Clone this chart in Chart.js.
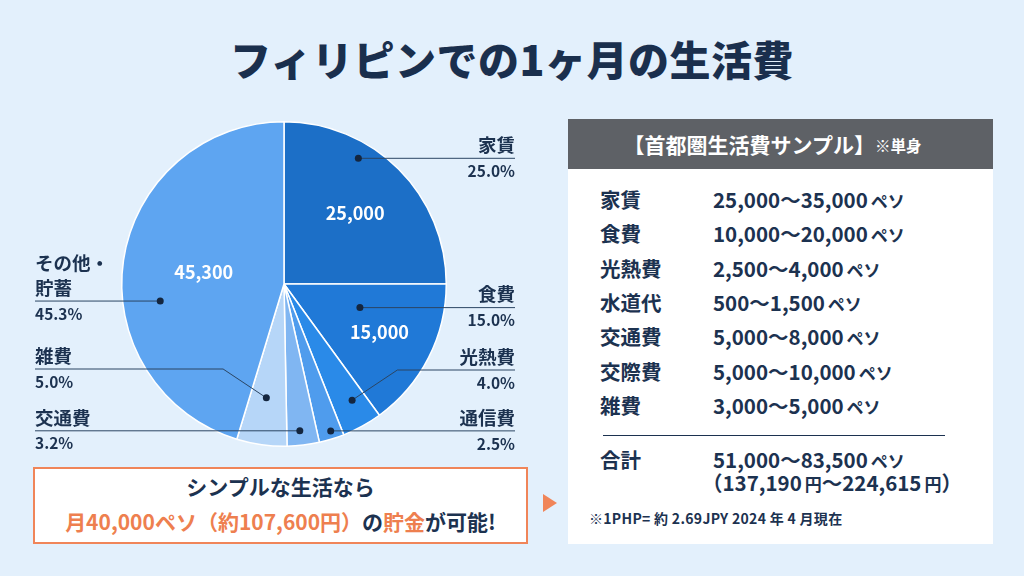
<!DOCTYPE html>
<html lang="ja">
<head>
<meta charset="utf-8">
<script src="https://cdn.jsdelivr.net/npm/chart.js@4.4.1/dist/chart.umd.min.js"></script>
<style>
  html, body { margin: 0; padding: 0; }
  body {
    width: 1024px; height: 576px; overflow: hidden; position: relative;
    background: #e3f0fc;
    font-family: "Noto Sans CJK JP", "Noto Sans", sans-serif;
    color: #1c3250;
  }
  #title {
    position: absolute; left: 0; top: 31px; width: 1024px; text-align: center;
    font-size: 41px; font-weight: 900; line-height: 54px; letter-spacing: 0.5px;
    color: #1a2f4d;
  }
  #chartBox { position: absolute; left: 0; top: 0; width: 568px; height: 576px; }
  #panel {
    position: absolute; left: 568px; top: 119px; width: 425px; height: 425px;
    background: #ffffff;
  }
  #panelHead {
    height: 50px; background: #5e6166; color: #fff; text-align: center;
    font-size: 21px; font-weight: 700; line-height: 50px; padding-right: 16px;
  }
  #panelHead small { font-size: 15.5px; font-weight: 700; vertical-align: 1px; }
  .row { position: absolute; font-size: 20.5px; font-weight: 700; line-height: 26px; white-space: nowrap; }
  .row .u { font-size: 17px; margin-left: 3px; }
  .lab { left: 32px; }
  .val { left: 145px; }
  #sep { position: absolute; left: 35px; top: 316px; width: 342px; height: 1px; background: #1c3250; }
  #note { position: absolute; left: 21px; top: 389px; font-size: 14px; font-weight: 700; letter-spacing: 0.3px; }
  #callout {
    position: absolute; left: 33px; top: 467px; width: 491px; height: 73px;
    background: #fff; border: 2px solid #f08559; text-align: center;
    font-weight: 700; font-size: 21px; line-height: 35px;
  }
  #callout .l1 { margin-top: 0px; }
  #callout .o { color: #ee7f4f; }
  #arrow {
    position: absolute; left: 543px; top: 494px; width: 0; height: 0;
    border-top: 9px solid transparent; border-bottom: 9px solid transparent;
    border-left: 14px solid #f08559;
  }
</style>
</head>
<body>
<div id="title">フィリピンでの1ヶ月の生活費</div>
<div id="chartBox"><canvas id="pie-chart" width="568" height="576"></canvas></div>

<div id="panel">
  <div id="panelHead">【首都圏生活費サンプル】<small>※単身</small></div>
  <div id="rows"></div>
  <div id="sep"></div>
  <div class="row lab" style="top:327px">合計</div>
  <div class="row val" style="top:327px">51,000～83,500<span class="u">ペソ</span></div>
  <div class="row val" style="top:350px; left:134px">（137,190<span class="u">円</span>～224,615<span class="u">円</span>）</div>
  <div id="note">※1PHP= 約 2.69JPY 2024 年 4 月現在</div>
</div>

<div id="callout">
  <div class="l1">シンプルな生活なら</div>
  <div><span class="o">月40,000ペソ（約107,600円）</span>の<span class="o">貯金</span>が可能!</div>
</div>
<div id="arrow"></div>

<script>
// 円グラフのデータ（ペソ）
const categories = ["家賃", "食費", "光熱費", "通信費", "交通費", "雑費", "その他・\n貯蓄"];
const amounts = [25000, 15000, 4000, 2500, 3200, 5000, 45300];
const sliceColors = ["#1c6fc7", "#2079d7", "#2a8ae8", "#4f9ced", "#80b6f2", "#b6d6f8", "#5ea5f1"];

// 右のサンプル表
const sampleItems = ["家賃", "食費", "光熱費", "水道代", "交通費", "交際費", "雑費"];
const sampleRanges = ["25,000～35,000", "10,000～20,000", "2,500～4,000", "500～1,500", "5,000～8,000", "5,000～10,000", "3,000～5,000"];

// ラベル配置（レイアウト用）
const labelSide = [1, 1, 1, 1, -1, -1, -1];
const dotT = [0.34, 0.32, 0.39, 0.44, 0.56, 0.55, 0.40];
const dotR = [0.90, 0.49, 0.83, 0.95, 0.91, 0.71, 0.77];
const lineY = [null, null, 370, null, null, 369, null];
const valueR = [0.62, 0.66, 0, 0, 0, 0, 0.50];

const rowsEl = document.getElementById("rows");
sampleItems.forEach(function(name, i) {
  const top = 67 + i * 34.3;
  rowsEl.insertAdjacentHTML("beforeend",
    '<div class="row lab" style="top:' + top + 'px">' + name + '</div>' +
    '<div class="row val" style="top:' + top + 'px">' + sampleRanges[i] + '<span class="u">ペソ</span></div>');
});

const total = amounts.reduce((a, b) => a + b, 0);
const navy = "#1c3250";
const font = '"Noto Sans CJK JP", "Noto Sans", sans-serif';

const calloutPlugin = {
  id: "callouts",
  afterDatasetsDraw(chart) {
    const ctx = chart.ctx;
    const arcs = chart.getDatasetMeta(0).data;
    arcs.forEach(function(arc, i) {
      const p = arc.getProps(["x", "y", "startAngle", "endAngle", "outerRadius"], true);
      const a = p.startAngle + dotT[i] * (p.endAngle - p.startAngle);
      const dx = p.x + Math.cos(a) * p.outerRadius * dotR[i];
      const dy = p.y + Math.sin(a) * p.outerRadius * dotR[i];
      const side = labelSide[i];
      const ly = lineY[i] === null ? dy : lineY[i];
      const endX = side > 0 ? 515 : 35;

      ctx.save();
      ctx.strokeStyle = "#2b4563";
      ctx.lineWidth = 1;
      ctx.beginPath();
      ctx.moveTo(dx, dy);
      if (Math.abs(ly - dy) > 1) {
        ctx.lineTo(dx + side * 1.5 * Math.abs(ly - dy), ly);
      }
      ctx.lineTo(endX, ly);
      ctx.stroke();
      ctx.fillStyle = "#14263f";
      ctx.beginPath();
      ctx.arc(dx, dy, 3.5, 0, Math.PI * 2);
      ctx.fill();

      // 項目名と割合
      ctx.fillStyle = navy;
      ctx.textAlign = side > 0 ? "right" : "left";
      ctx.font = "700 18.5px " + font;
      ctx.textBaseline = "bottom";
      const lines = categories[i].split("\n");
      lines.forEach(function(t, k) {
        ctx.fillText(t, endX, ly - 4 - (lines.length - 1 - k) * 25);
      });
      ctx.font = "700 15.5px " + font;
      ctx.textBaseline = "top";
      ctx.fillText((amounts[i] / total * 100).toFixed(1) + "%", endX, ly + 5);

      // スライス内の金額
      if (valueR[i] > 0) {
        const m = (p.startAngle + p.endAngle) / 2;
        ctx.fillStyle = "#ffffff";
        ctx.font = "700 18px " + font;
        ctx.textAlign = "center";
        ctx.textBaseline = "middle";
        ctx.fillText(amounts[i].toLocaleString("en-US"),
          p.x + Math.cos(m) * p.outerRadius * valueR[i],
          p.y + Math.sin(m) * p.outerRadius * valueR[i]);
      }
      ctx.restore();
    });
  }
};

document.fonts.load("700 17px " + font).finally(function() {
  new Chart(document.getElementById("pie-chart"), {
    type: "pie",
    data: {
      labels: categories,
      datasets: [{
        data: amounts,
        backgroundColor: sliceColors,
        borderColor: "#ffffff",
        borderWidth: 1.5
      }]
    },
    options: {
      responsive: false,
      animation: false,
      layout: { padding: { left: 121, top: 121, right: 121, bottom: 129 } },
      plugins: { legend: { display: false }, tooltip: { enabled: false } }
    },
    plugins: [calloutPlugin]
  });
});
</script>
</body>
</html>
